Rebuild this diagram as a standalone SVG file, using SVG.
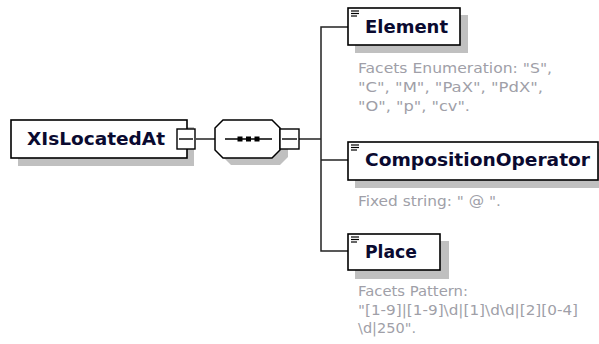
<svg xmlns="http://www.w3.org/2000/svg" width="599" height="344" viewBox="0 0 599 344">
<style>
.box{fill:#fff;stroke:#000;stroke-width:1.6}
.shadow{fill:#c0c0c0;stroke:none}
.conn{fill:none;stroke:#222;stroke-width:1.5}
.name{font-family:"DejaVu Sans",Verdana,sans-serif;font-weight:bold;font-size:18.5px;fill:#0a0a30}
.desc{font-family:"DejaVu Sans",Verdana,sans-serif;font-size:13.5px;fill:#a09fa8}
.icon{stroke:#000;stroke-width:1.2}
.minus{fill:#fff;stroke:#000;stroke-width:1.4}
</style>
<rect width="599" height="344" fill="#fff"/>
<g id="connectors">
<line class="conn" x1="196" y1="139" x2="215" y2="139"/>
<line class="conn" x1="299" y1="139" x2="321" y2="139"/>
<polyline class="conn" points="348,27 321,27 321,251 348,251"/>
<line class="conn" x1="321" y1="160" x2="348" y2="160"/>
</g>
<g id="XIsLocatedAt">
<rect class="shadow" x="18" y="127" width="176" height="39"/>
<rect class="box" x="11" y="120" width="176" height="38"/>
<text class="name" x="27" y="145" textLength="138" lengthAdjust="spacingAndGlyphs">XIsLocatedAt</text>
<rect class="minus" x="177" y="129" width="18" height="20"/>
<line x1="179" y1="139" x2="193" y2="139" stroke="#000" stroke-width="1.4"/>
</g>
<g id="sequence">
<polygon class="shadow" points="231,127 280,127 288,135 288,157 280,165 231,165 223,157 223,135"/>
<polygon fill="#fff" stroke="#000" stroke-width="1.5" points="223,120 272,120 280,128 280,150 272,158 223,158 215,150 215,128"/>
<line x1="225" y1="139" x2="272" y2="139" stroke="#000" stroke-width="1.5"/>
<rect x="237.5" y="136.5" width="5" height="5" fill="#000"/>
<rect x="246" y="136.5" width="5" height="5" fill="#000"/>
<rect x="254.5" y="136.5" width="5" height="5" fill="#000"/>
<rect class="minus" x="280" y="129" width="19" height="20"/>
<line x1="282" y1="139" x2="297" y2="139" stroke="#000" stroke-width="1.4"/>
</g>
<g id="Element">
<rect class="shadow" x="355" y="15" width="113" height="38"/>
<rect class="box" x="348" y="8" width="112" height="37"/>
<line class="icon" x1="351" y1="11" x2="359" y2="11"/>
<line class="icon" x1="351" y1="13.5" x2="359" y2="13.5"/>
<line class="icon" x1="351" y1="16" x2="357" y2="16"/>
<text class="name" x="365" y="33" textLength="83" lengthAdjust="spacingAndGlyphs">Element</text>
<text class="desc" x="358" y="73" textLength="194" lengthAdjust="spacingAndGlyphs">Facets Enumeration: "S",</text>
<text class="desc" x="358" y="92" textLength="185" lengthAdjust="spacingAndGlyphs">"C", "M", "PaX", "PdX",</text>
<text class="desc" x="358" y="111" textLength="112" lengthAdjust="spacingAndGlyphs">"O", "p", "cv".</text>
</g>
<g id="CompositionOperator">
<rect class="shadow" x="355" y="149" width="250" height="39"/>
<rect class="box" x="348" y="142" width="250" height="38"/>
<line class="icon" x1="351" y1="145" x2="359" y2="145"/>
<line class="icon" x1="351" y1="147.5" x2="359" y2="147.5"/>
<line class="icon" x1="351" y1="150" x2="357" y2="150"/>
<text class="name" x="365" y="166" textLength="225" lengthAdjust="spacingAndGlyphs">CompositionOperator</text>
<text class="desc" x="358" y="206" textLength="143" lengthAdjust="spacingAndGlyphs">Fixed string: " @ ".</text>
</g>
<g id="Place">
<rect class="shadow" x="355" y="241" width="94" height="38"/>
<rect class="box" x="348" y="234" width="92" height="36"/>
<line class="icon" x1="351" y1="237" x2="359" y2="237"/>
<line class="icon" x1="351" y1="239.5" x2="359" y2="239.5"/>
<line class="icon" x1="351" y1="242" x2="357" y2="242"/>
<text class="name" x="365" y="258" textLength="52" lengthAdjust="spacingAndGlyphs">Place</text>
<text class="desc" x="358" y="296" textLength="110" lengthAdjust="spacingAndGlyphs">Facets Pattern:</text>
<text class="desc" x="358" y="314.5" textLength="220" lengthAdjust="spacingAndGlyphs">"[1-9]|[1-9]\d|[1]\d\d|[2][0-4]</text>
<text class="desc" x="358" y="333" textLength="58" lengthAdjust="spacingAndGlyphs">\d|250".</text>
</g>
</svg>
